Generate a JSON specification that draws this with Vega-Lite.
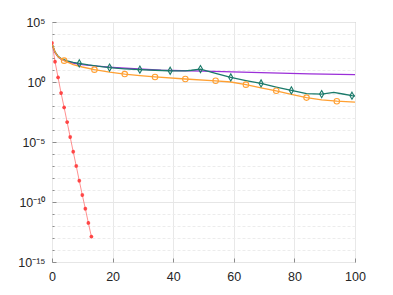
{
  "$schema": "https://vega.github.io/schema/vega-lite/v6.json",
  "width": 303,
  "height": 240,
  "autosize": {"type": "none"},
  "padding": {"left": 52, "top": 22, "right": 38, "bottom": 33},
  "background": "white",
  "config": {
    "view": {"stroke": "#a6a6a6", "strokeWidth": 1},
    "axis": {
      "labelFont": "Liberation Sans",
      "labelFontSize": 12.5,
      "labelColor": "#262626",
      "domain": false,
      "tickColor": "#8c8c8c",
      "gridColor": "#e8e8e8",
      "gridWidth": 1
    }
  },
  "data": {
    "values": [
      {"s": "a", "x": 0, "y": 1778, "m": 1},
      {"s": "a", "x": 1, "y": 49, "m": 1},
      {"s": "a", "x": 2, "y": 2.4, "m": 1},
      {"s": "a", "x": 3, "y": 0.12, "m": 1},
      {"s": "a", "x": 4, "y": 0.0076, "m": 1},
      {"s": "a", "x": 5, "y": 4.5e-4, "m": 1},
      {"s": "a", "x": 6, "y": 2.6e-5, "m": 1},
      {"s": "a", "x": 7, "y": 1.55e-6, "m": 1},
      {"s": "a", "x": 8, "y": 1e-7, "m": 1},
      {"s": "a", "x": 9, "y": 5.9e-9, "m": 1},
      {"s": "a", "x": 10, "y": 3.8e-10, "m": 1},
      {"s": "a", "x": 11, "y": 2.75e-11, "m": 1},
      {"s": "a", "x": 12, "y": 1.8e-12, "m": 1},
      {"s": "a", "x": 13, "y": 1.3e-13, "m": 1},

      {"s": "b", "x": 0, "y": 1585, "m": 0},
      {"s": "b", "x": 1, "y": 282, "m": 0},
      {"s": "b", "x": 2, "y": 126, "m": 0},
      {"s": "b", "x": 3, "y": 79, "m": 0},
      {"s": "b", "x": 5, "y": 50, "m": 0},
      {"s": "b", "x": 7, "y": 38, "m": 0},
      {"s": "b", "x": 10, "y": 28.2, "m": 0},
      {"s": "b", "x": 15, "y": 20.9, "m": 0},
      {"s": "b", "x": 20, "y": 16.6, "m": 0},
      {"s": "b", "x": 30, "y": 11.5, "m": 0},
      {"s": "b", "x": 36, "y": 9.55, "m": 0},
      {"s": "b", "x": 50, "y": 7.94, "m": 0},
      {"s": "b", "x": 69, "y": 6.0, "m": 0},
      {"s": "b", "x": 85, "y": 4.8, "m": 0},
      {"s": "b", "x": 100, "y": 4.07, "m": 0},

      {"s": "c", "x": 0, "y": 1585, "m": 0},
      {"s": "c", "x": 1, "y": 316, "m": 0},
      {"s": "c", "x": 2, "y": 141, "m": 0},
      {"s": "c", "x": 3, "y": 89, "m": 0},
      {"s": "c", "x": 5, "y": 57.5, "m": 0},
      {"s": "c", "x": 7, "y": 43.6, "m": 0},
      {"s": "c", "x": 9, "y": 35.5, "m": 1},
      {"s": "c", "x": 12, "y": 26.3, "m": 0},
      {"s": "c", "x": 15, "y": 20.9, "m": 0},
      {"s": "c", "x": 19, "y": 15.8, "m": 1},
      {"s": "c", "x": 24, "y": 12.6, "m": 0},
      {"s": "c", "x": 29, "y": 10.7, "m": 1},
      {"s": "c", "x": 34, "y": 9.55, "m": 0},
      {"s": "c", "x": 39, "y": 8.7, "m": 1},
      {"s": "c", "x": 44, "y": 8.5, "m": 0},
      {"s": "c", "x": 46, "y": 9.55, "m": 0},
      {"s": "c", "x": 49, "y": 12.0, "m": 1},
      {"s": "c", "x": 54, "y": 5.25, "m": 0},
      {"s": "c", "x": 59, "y": 2.4, "m": 1},
      {"s": "c", "x": 64, "y": 1.32, "m": 0},
      {"s": "c", "x": 69, "y": 0.76, "m": 1},
      {"s": "c", "x": 74, "y": 0.38, "m": 0},
      {"s": "c", "x": 79, "y": 0.2, "m": 1},
      {"s": "c", "x": 84, "y": 0.107, "m": 0},
      {"s": "c", "x": 89, "y": 0.098, "m": 1},
      {"s": "c", "x": 93, "y": 0.135, "m": 0},
      {"s": "c", "x": 96, "y": 0.1, "m": 0},
      {"s": "c", "x": 99, "y": 0.072, "m": 1},
      {"s": "c", "x": 100, "y": 0.068, "m": 0},

      {"s": "d", "x": 0, "y": 1585, "m": 0},
      {"s": "d", "x": 1, "y": 316, "m": 0},
      {"s": "d", "x": 2, "y": 126, "m": 0},
      {"s": "d", "x": 4, "y": 60, "m": 1},
      {"s": "d", "x": 7, "y": 28.2, "m": 0},
      {"s": "d", "x": 10, "y": 17.8, "m": 0},
      {"s": "d", "x": 14, "y": 10.7, "m": 1},
      {"s": "d", "x": 19, "y": 6.6, "m": 0},
      {"s": "d", "x": 24, "y": 4.57, "m": 1},
      {"s": "d", "x": 29, "y": 3.39, "m": 0},
      {"s": "d", "x": 34, "y": 2.63, "m": 1},
      {"s": "d", "x": 44, "y": 1.78, "m": 1},
      {"s": "d", "x": 54, "y": 1.26, "m": 1},
      {"s": "d", "x": 59, "y": 1.0, "m": 0},
      {"s": "d", "x": 64, "y": 0.6, "m": 1},
      {"s": "d", "x": 69, "y": 0.33, "m": 0},
      {"s": "d", "x": 74, "y": 0.186, "m": 1},
      {"s": "d", "x": 79, "y": 0.095, "m": 0},
      {"s": "d", "x": 84, "y": 0.05, "m": 1},
      {"s": "d", "x": 89, "y": 0.033, "m": 0},
      {"s": "d", "x": 94, "y": 0.025, "m": 1},
      {"s": "d", "x": 100, "y": 0.0214, "m": 0}
    ]
  },
  "encoding": {
    "x": {
      "field": "x", "type": "quantitative",
      "scale": {"domain": [0, 100], "nice": false},
      "axis": {
        "title": null,
        "values": [0, 20, 40, 60, 80, 100],
        "tickSize": -4,
        "labelPadding": 12,
        "labelFlush": false
      }
    },
    "y": {
      "field": "y", "type": "quantitative",
      "scale": {"type": "log", "domain": [1e-15, 1e5], "nice": false},
      "axis": {
        "title": null,
        "values": [1e-15, 1e-14, 1e-13, 1e-12, 1e-11, 1e-10, 1e-9, 1e-8, 1e-7, 1e-6, 1e-5, 1e-4, 1e-3, 1e-2, 1e-1, 1, 10, 100, 1000, 10000, 100000],
        "labelExpr": "round(log(datum.value)/LN10) == 5 ? '10⁵' : round(log(datum.value)/LN10) == 0 ? '10⁰' : round(log(datum.value)/LN10) == -5 ? '10⁻⁵' : round(log(datum.value)/LN10) == -10 ? '10⁻¹⁰' : round(log(datum.value)/LN10) == -15 ? '10⁻¹⁵' : ''",
        "tickSize": {"condition": {"test": "round(log(datum.value)/LN10) % 5 == 0", "value": -4}, "value": -2},
        "labelPadding": 11,
        "labelFlush": false,
        "gridDash": {"condition": {"test": "round(log(datum.value)/LN10) % 5 == 0", "value": []}, "value": [3, 2]},
        "gridColor": {"condition": {"test": "round(log(datum.value)/LN10) % 5 == 0", "value": "#e6e6e6"}, "value": "#ececec"}
      }
    },
    "color": {
      "field": "s", "type": "nominal", "legend": null,
      "scale": {"domain": ["a", "b", "c", "d"], "range": ["#ff4545", "#9b2fd8", "#1b7a6a", "#ffa033"]}
    }
  },
  "layer": [
    {
      "mark": {"type": "line", "clip": true},
      "encoding": {
        "detail": {"field": "s"},
        "strokeWidth": {"condition": {"test": "datum.s == 'a'", "value": 0.8}, "value": 1.3},
        "opacity": {"condition": {"test": "datum.s == 'a'", "value": 0.75}, "value": 1}
      }
    },
    {
      "transform": [{"filter": "datum.m == 1"}],
      "mark": {"type": "point", "filled": false, "strokeWidth": 1.1, "opacity": 1, "clip": true},
      "encoding": {
        "shape": {
          "field": "s", "type": "nominal", "legend": null,
          "scale": {"domain": ["a", "c", "d"], "range": ["M-1,0L1,0M0,-1L0,1M-0.7,-0.7L0.7,0.7M-0.7,0.7L0.7,-0.7", "M0,-1.3L0.75,0L0,1.3L-0.75,0Z", "circle"]}
        },
        "size": {"condition": {"test": "datum.s == 'a'", "value": 14}, "value": 30}
      }
    }
  ]
}
